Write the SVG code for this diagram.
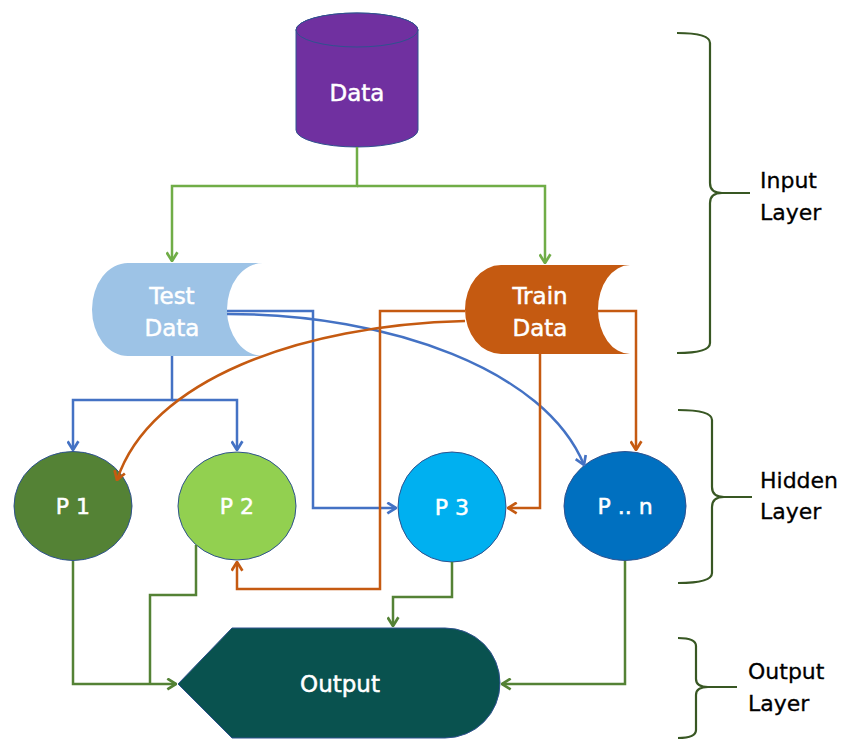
<svg xmlns="http://www.w3.org/2000/svg" width="846" height="740" viewBox="0 0 846 740">
<defs>
<style>
.lbl{font-family:"DejaVu Sans","Liberation Sans",sans-serif;font-size:23px;fill:#fff;stroke:#fff;stroke-width:0.5;text-anchor:middle}
.pl{font-size:22px}
.side{font-family:"DejaVu Sans","Liberation Sans",sans-serif;font-size:22px;fill:#000;stroke:#000;stroke-width:0.3}
.c{fill:none;stroke-width:2.5}
.bl{stroke:#4472C4}
.or{stroke:#C55A11}
.gl{stroke:#70AD47}
.gd{stroke:#548235}
.brace{fill:none;stroke:#385723;stroke-width:2.2}
.node{stroke:#2F528F;stroke-width:1}
</style>
<marker id="mb" viewBox="0 0 10 12" refX="9" refY="6" markerWidth="11" markerHeight="13" markerUnits="userSpaceOnUse" orient="auto"><path d="M1,1 L9,6 L1,11" fill="none" stroke="#4472C4" stroke-width="2.5"/></marker>
<marker id="mo" viewBox="0 0 10 12" refX="9" refY="6" markerWidth="11" markerHeight="13" markerUnits="userSpaceOnUse" orient="auto"><path d="M1,1 L9,6 L1,11" fill="none" stroke="#C55A11" stroke-width="2.5"/></marker>
<marker id="mg" viewBox="0 0 10 12" refX="9" refY="6" markerWidth="11" markerHeight="13" markerUnits="userSpaceOnUse" orient="auto"><path d="M1,1 L9,6 L1,11" fill="none" stroke="#70AD47" stroke-width="2.5"/></marker>
<marker id="md" viewBox="0 0 10 12" refX="9" refY="6" markerWidth="11" markerHeight="13" markerUnits="userSpaceOnUse" orient="auto"><path d="M1,1 L9,6 L1,11" fill="none" stroke="#548235" stroke-width="2.5"/></marker>
</defs>

<g id="data">
<path class="node" fill="#7030A0" d="M296,30 L296,130 A61,17 0 0 0 418,130 L418,30 A61,17 0 0 0 296,30 Z"/>
<ellipse class="node" fill="#7030A0" cx="357" cy="30" rx="61" ry="17"/>
<text class="lbl" x="357" y="101">Data</text>
</g>

<g id="test-data">
<path fill="#9DC3E6" d="M128,263 L263,263 A36,46.5 0 0 0 263,356 L128,356 A36,46.5 0 0 1 128,263 Z"/>
<text class="lbl" x="172" y="304">Test</text>
<text class="lbl" x="172" y="336">Data</text>
</g>

<g id="train-data">
<path fill="#C55A11" d="M501,265 L630,265 A32,44.5 0 0 0 630,354 L501,354 A36,44.5 0 0 1 501,265 Z"/>
<text class="lbl" x="540" y="304">Train</text>
<text class="lbl" x="540" y="336">Data</text>
</g>

<g id="p1">
<ellipse class="node" fill="#548235" cx="73" cy="506" rx="59" ry="54.5"/>
<text class="lbl pl" x="73" y="514">P 1</text>
</g>
<g id="p2">
<ellipse class="node" fill="#92D050" cx="237" cy="506" rx="59" ry="54"/>
<text class="lbl pl" x="237" y="514">P 2</text>
</g>
<g id="p3">
<ellipse class="node" fill="#00B0F0" cx="452" cy="507" rx="54" ry="55"/>
<text class="lbl pl" x="452" y="515">P 3</text>
</g>
<g id="pn">
<ellipse class="node" fill="#0070C0" cx="625" cy="506" rx="61" ry="54.5"/>
<text class="lbl pl" x="625" y="514">P .. n</text>
</g>

<g id="output">
<path class="node" fill="#09524F" d="M178,684 L232,628 L445,628 A55,55 0 0 1 445,738 L232,738 Z"/>
<text class="lbl" x="340" y="692">Output</text>
</g>

<g id="connectors">
<path class="c gl" d="M357,147 V186 H172 V261" marker-end="url(#mg)"/>
<path class="c gl" d="M357,186 H545 V263" marker-end="url(#mg)"/>
<path class="c bl" d="M172,356 V400 H73 V450" marker-end="url(#mb)"/>
<path class="c bl" d="M172,400 H237 V450" marker-end="url(#mb)"/>
<path class="c bl" d="M227,311 H313 V508 H396" marker-end="url(#mb)"/>
<path class="c bl" d="M227,314 C390,314 545,370 584,465" marker-end="url(#mb)"/>
<path class="c or" d="M465,311 H380 V589 H237 V562" marker-end="url(#mo)"/>
<path class="c or" d="M465,321 C300,325 150,380 117,480" marker-end="url(#mo)"/>
<path class="c or" d="M540,354 V508 H508" marker-end="url(#mo)"/>
<path class="c or" d="M598,311 H636 V450" marker-end="url(#mo)"/>
<path class="c gd" d="M73,561 V684 H176" marker-end="url(#md)"/>
<path class="c gd" d="M196,545 V595 H150 V684"/>
<path class="c gd" d="M452,562 V597 H393 V626" marker-end="url(#md)"/>
<path class="c gd" d="M625,561 V684 H502" marker-end="url(#md)"/>
</g>

<g id="input-layer">
<path class="brace" d="M677,33 Q710,33 710,43 L710,183 Q710,193 722,193 L750,193 M722,193 Q710,193 710,203 L710,343 Q710,353 677,353"/>
<text class="side" x="760" y="188">Input</text>
<text class="side" x="760" y="220">Layer</text>
</g>
<g id="hidden-layer">
<path class="brace" d="M678,410 Q712,410 712,420 L712,487 Q712,497 724,497 L752,497 M724,497 Q712,497 712,507 L712,573 Q712,583 678,583"/>
<text class="side" x="760" y="488">Hidden</text>
<text class="side" x="760" y="519">Layer</text>
</g>
<g id="output-layer">
<path class="brace" d="M678,638 Q696,638 696,646 L696,679 Q696,687 708,687 L737,687 M708,687 Q696,687 696,695 L696,730 Q696,738 678,738"/>
<text class="side" x="748" y="679">Output</text>
<text class="side" x="748" y="711">Layer</text>
</g>
</svg>
